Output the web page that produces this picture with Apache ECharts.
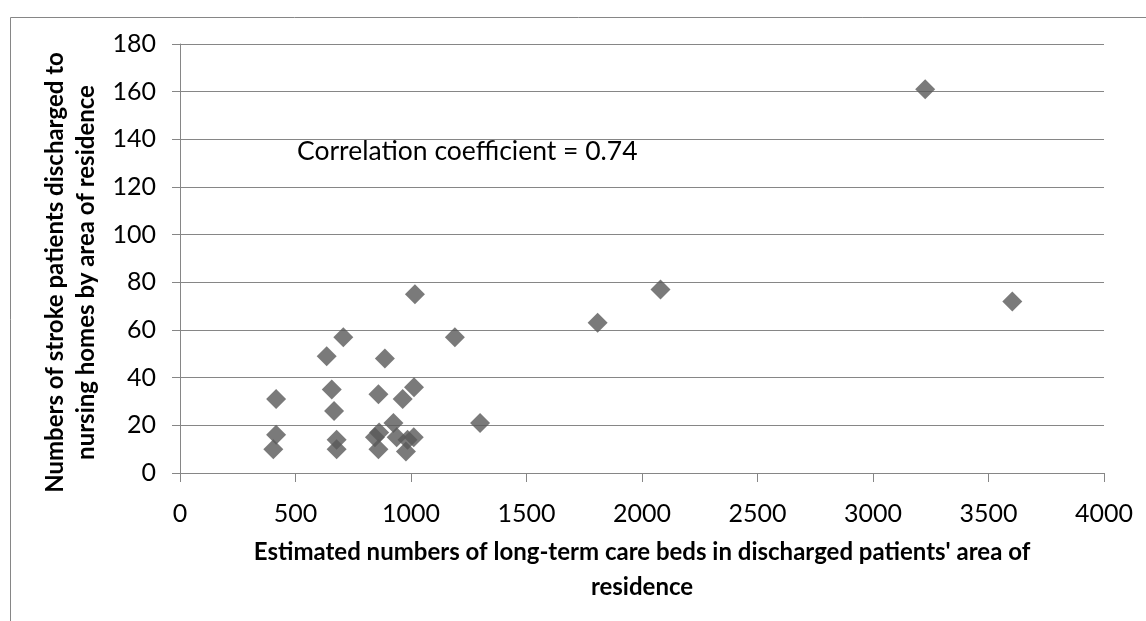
<!DOCTYPE html>
<html>
<head>
<meta charset="utf-8">
<script src="https://cdn.jsdelivr.net/npm/echarts@6/dist/echarts.min.js"></script>
<style>
  html, body { margin: 0; padding: 0; background: #fff; }
  #chart { width: 1146px; height: 621px; }
</style>
</head>
<body>
<div id="chart"></div>
<script>
// estimated long-term care beds (x) and stroke patients discharged to nursing homes (y)
var bedsX = [416, 416, 404, 635, 657, 707, 667, 678, 678,
             887, 859, 964, 1013, 1017,
             844, 862, 859, 924, 938, 978, 985, 1012,
             1190, 1299, 1808, 2080, 3226, 3603];
var patientsY = [31, 16, 10, 49, 35, 57, 26, 14, 10,
                 48, 33, 31, 36, 75,
                 15, 17, 10, 21, 15, 9, 14, 15,
                 57, 21, 63, 77, 161, 72];
var xTicks = [0, 500, 1000, 1500, 2000, 2500, 3000, 3500, 4000];
var yTicks = [0, 20, 40, 60, 80, 100, 120, 140, 160, 180];
var noteText = 'Correlation coefficient = 0.74';

var points = bedsX.map(function (x, i) { return [x, patientsY[i]]; });

var gray = '#868686';
var font = 'Lato, "Liberation Sans", sans-serif';

var myChart = echarts.init(document.getElementById('chart'));
myChart.setOption({
  animation: false,
  backgroundColor: '#fff',
  grid: { left: 180, top: 44, width: 924, height: 429 },
  xAxis: {
    type: 'value',
    min: xTicks[0],
    max: xTicks[xTicks.length - 1],
    interval: 500,
    name: "Estimated numbers of long-term care beds in discharged patients' area of\nresidence",
    nameLocation: 'middle',
    nameGap: 62,
    nameTextStyle: { fontFamily: font, fontWeight: 'bold', fontSize: 24, color: '#000', lineHeight: 35 },
    axisLine: { show: true, lineStyle: { color: gray, width: 1 } },
    axisTick: { show: true, length: 9, lineStyle: { color: gray } },
    splitLine: { show: false },
    axisLabel: {
      fontFamily: font, fontSize: 25, color: '#000', margin: 28,
      formatter: function (v) { return String(v); }
    }
  },
  yAxis: {
    type: 'value',
    min: yTicks[0],
    max: yTicks[yTicks.length - 1],
    interval: 20,
    name: 'Numbers of stroke patients discharged to\nnursing homes by area of residence',
    nameLocation: 'middle',
    nameRotate: 90,
    nameGap: 69,
    nameTextStyle: {
      fontFamily: font, fontWeight: 'bold', fontSize: 24, color: '#000', lineHeight: 31,
      padding: [0, 28, 0, 0]
    },
    axisLine: { show: true, lineStyle: { color: gray, width: 1 } },
    axisTick: { show: true, length: 8, lineStyle: { color: gray } },
    splitLine: { show: true, lineStyle: { color: gray, width: 1 } },
    axisLabel: { fontFamily: font, fontSize: 25, color: '#000', margin: 24 }
  },
  graphic: [
    {
      type: 'rect',
      left: 8, top: 15,
      shape: { width: 1160, height: 640 },
      style: { fill: null, stroke: gray, lineWidth: 1 },
      silent: true
    },
    {
      type: 'group',
      left: 277, top: 128,
      children: [
        { type: 'rect', shape: { x: 0, y: 0, width: 420, height: 44 }, style: { fill: '#fff' } },
        { type: 'text', x: 20, y: 23,
          style: { text: noteText, font: '26.5px ' + font, fill: '#000', verticalAlign: 'middle' } }
      ]
    }
  ],
  series: [{
    type: 'scatter',
    data: points,
    symbol: 'diamond',
    symbolSize: 20,
    itemStyle: { color: '#595959' }
  }]
});
window.onresize = myChart.resize;
</script>
</body>
</html>
